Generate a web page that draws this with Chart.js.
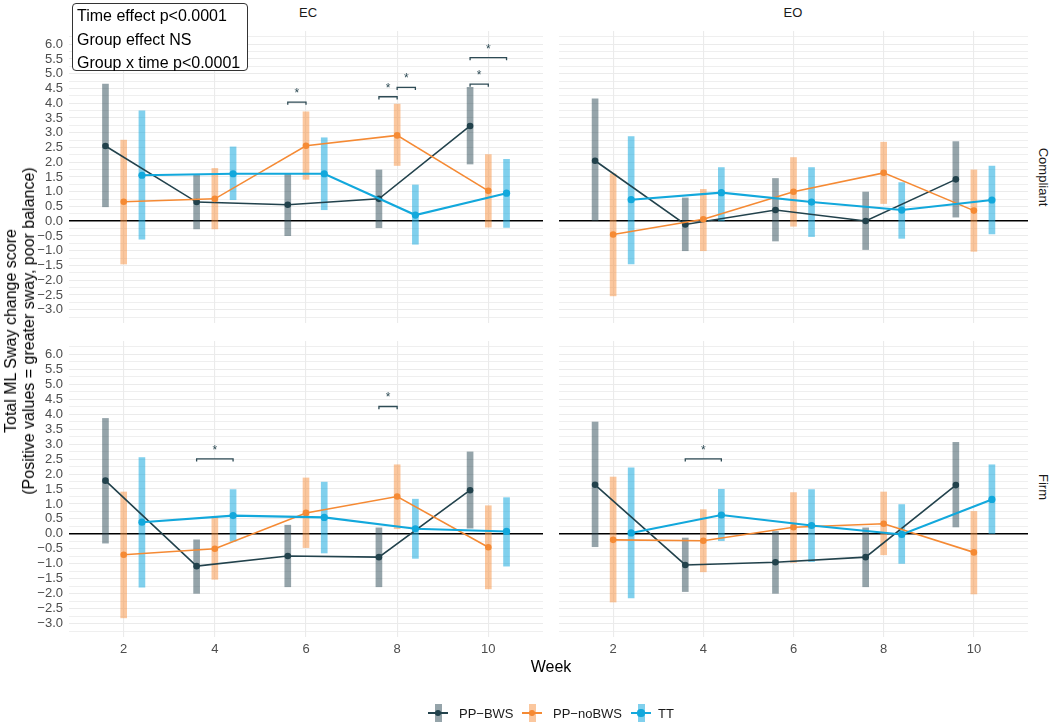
<!DOCTYPE html>
<html>
<head>
<meta charset="utf-8">
<script src="https://cdn.jsdelivr.net/npm/chart.js@4.4.0/dist/chart.umd.min.js"></script>
<style>
  body { margin: 0; background: #fff; font-family: "Liberation Sans", Arial, sans-serif; }
  #wrap { position: relative; width: 1052px; height: 726px; overflow: hidden; }
  canvas { position: absolute; }
  .txt { position: absolute; white-space: nowrap; color: #1a1a1a; }
  .strip { font-size: 13px; line-height: 16px; }
  #note {
    position: absolute; left: 72px; top: 3px; width: 176px; height: 68px; box-sizing: border-box;
    border: 1px solid #333; border-radius: 4px; background: #fff; padding: 0 0 0 4px;
    font-size: 16px; line-height: 23.5px; color: #000; white-space: nowrap;
  }
  .kbar, .kline, .kdot { position: absolute; }
</style>
</head>
<body>
<div id="wrap">
  <canvas id="ecComp" width="547" height="300" style="left:0;top:27px"></canvas>
  <canvas id="eoComp" width="477" height="300" style="left:555px;top:27px"></canvas>
  <canvas id="ecFirm" width="547" height="324" style="left:0;top:337px"></canvas>
  <canvas id="eoFirm" width="477" height="324" style="left:555px;top:337px"></canvas>

  <div class="txt strip" style="left:308px;top:5px;transform:translateX(-50%)">EC</div>
  <div class="txt strip" style="left:793px;top:5px;transform:translateX(-50%)">EO</div>
  <div class="txt strip" style="left:1043px;top:177px;transform:translate(-50%,-50%) rotate(90deg)">Compliant</div>
  <div class="txt strip" style="left:1043px;top:487px;transform:translate(-50%,-50%) rotate(90deg)">Firm</div>

  <div class="txt" style="left:20px;top:331px;font-size:16px;line-height:18px;text-align:center;color:#000;transform:translate(-50%,-50%) rotate(-90deg)">Total ML Sway change score<br>(Positive values = greater sway, poor balance)</div>
  <div class="txt" style="left:551px;top:667px;font-size:16px;color:#000;transform:translate(-50%,-50%)">Week</div>

  <div id="note">Time effect p&lt;0.0001<br>Group effect NS<br>Group x time p&lt;0.0001</div>
  <div id="legend"></div>
</div>

<script>
// weeks and groups
const weeks = [2, 4, 6, 8, 10];
const groups = ['PP\u2212BWS', 'PP\u2212noBWS', 'TT'];
const yBreaks = [-3, -2.5, -2, -1.5, -1, -0.5, 0, 0.5, 1, 1.5, 2, 2.5, 3, 3.5, 4, 4.5, 5, 5.5, 6];

// rows: PP-BWS, PP-noBWS, TT ; columns: weeks
const ecCompMean = [
  [2.55, 0.65, 0.56, 0.76, 3.23],
  [0.66, 0.76, 2.56, 2.91, 1.03],
  [1.56, 1.61, 1.61, 0.21, 0.95]
];
const ecCompLow = [
  [0.49, -0.26, -0.49, -0.22, 1.94],
  [-1.45, -0.26, 1.42, 1.89, -0.20],
  [-0.61, 0.73, 0.39, -0.78, -0.21]
];
const ecCompHigh = [
  [4.65, 1.58, 1.61, 1.74, 4.54],
  [2.75, 1.79, 3.71, 3.97, 2.26],
  [3.74, 2.52, 2.83, 1.23, 2.10]
];

const eoCompMean = [
  [2.05, -0.11, 0.38, 0.01, 1.42],
  [-0.45, 0.07, 1.00, 1.64, 0.36],
  [0.73, 0.97, 0.65, 0.38, 0.72]
];
const eoCompLow = [
  [0.00, -1.00, -0.67, -0.96, 0.14],
  [-2.53, -1.00, -0.17, 0.60, -1.02],
  [-1.45, 0.01, -0.52, -0.58, -0.43]
];
const eoCompHigh = [
  [4.15, 0.79, 1.45, 0.99, 2.70],
  [1.61, 1.08, 2.16, 2.68, 1.74],
  [2.87, 1.82, 1.82, 1.31, 1.87]
];

const ecFirmMean = [
  [1.78, -1.08, -0.74, -0.78, 1.46],
  [-0.70, -0.50, 0.70, 1.25, -0.45],
  [0.39, 0.61, 0.55, 0.17, 0.08]
];
const ecFirmLow = [
  [-0.31, -1.99, -1.77, -1.77, 0.19],
  [-2.81, -1.52, -0.46, 0.17, -1.84],
  [-1.78, -0.25, -0.64, -0.82, -1.08]
];
const ecFirmHigh = [
  [3.86, -0.20, 0.29, 0.20, 2.74],
  [1.40, 0.55, 1.87, 2.31, 0.94],
  [2.55, 1.48, 1.73, 1.16, 1.21]
];

const eoFirmMean = [
  [1.64, -1.04, -0.95, -0.78, 1.63],
  [-0.20, -0.23, 0.22, 0.34, -0.62],
  [0.03, 0.63, 0.28, -0.02, 1.15]
];
const eoFirmLow = [
  [-0.43, -1.93, -1.99, -1.77, 0.23],
  [-2.28, -1.27, -0.96, -0.70, -2.01],
  [-2.14, -0.23, -0.93, -0.99, 0.01]
];
const eoFirmHigh = [
  [3.74, -0.14, 0.08, 0.20, 3.06],
  [1.90, 0.81, 1.38, 1.40, 0.75],
  [2.21, 1.49, 1.48, 0.98, 2.31]
];

// significance brackets: [week, group a, group b, height]
const ecCompBrackets = [[6, 0, 1, 4.04], [8, 0, 1, 4.22], [8, 1, 2, 4.54], [10, 0, 1, 4.65], [10, 0, 2, 5.55]];
const eoCompBrackets = [];
const ecFirmBrackets = [[4, 0, 2, 2.51], [8, 0, 1, 4.26]];
const eoFirmBrackets = [[4, 0, 2, 2.51]];

// styling
const FONT = '"Liberation Sans", Arial, sans-serif';
const lineColors = ['#22424c', '#f58a34', '#12a8dc'];
const barColors = ['rgba(43,74,85,0.5)', 'rgba(247,144,62,0.5)', 'rgba(23,169,222,0.55)'];
const lineWidths = [1.6, 1.6, 2.1];
const pointSizes = [3.3, 3.3, 3.6];
const dodge = [-0.4, 0, 0.4];
const bracketColor = '#2e4b55';

const yGridValues = [];
yBreaks.forEach(v => { yGridValues.push(v - 0.25, v); });
yGridValues.push(6.25);

const fmt = v => (v < 0 ? '\u2212' : '') + Math.abs(v).toFixed(1);

function buildDatasets(mean, low, high, brackets) {
  const ds = [];
  for (let g = 0; g < 3; g++) {
    ds.push({
      type: 'bar',
      data: weeks.map((w, i) => ({ x: w + dodge[g], y: [low[g][i], high[g][i]] })),
      backgroundColor: barColors[g],
      borderWidth: 0,
      barThickness: 6,
      grouped: false,
      order: 10 + g
    });
  }
  for (let g = 0; g < 3; g++) {
    ds.push({
      type: 'line',
      data: weeks.map((w, i) => ({ x: w + dodge[g], y: mean[g][i] })),
      borderColor: lineColors[g],
      backgroundColor: lineColors[g],
      borderWidth: lineWidths[g],
      pointRadius: pointSizes[g],
      pointBorderWidth: 0,
      tension: 0,
      order: 3 - g
    });
  }
  brackets.forEach(b => {
    const xa = b[0] + dodge[b[1]];
    const xb = b[0] + dodge[b[2]];
    ds.push({
      type: 'line',
      data: [{ x: xa, y: b[3] - 0.09 }, { x: xa, y: b[3] }, { x: xb, y: b[3] }, { x: xb, y: b[3] - 0.09 }],
      borderColor: bracketColor,
      borderWidth: 1.3,
      pointRadius: 0,
      tension: 0,
      order: 0
    });
  });
  return ds;
}

// asterisks above each bracket
const starPlugin = {
  id: 'stars',
  afterDatasetsDraw(chart, args, opts) {
    const { ctx, scales } = chart;
    ctx.save();
    ctx.fillStyle = bracketColor;
    ctx.font = '12px ' + FONT;
    ctx.textAlign = 'center';
    ctx.textBaseline = 'alphabetic';
    (opts.brackets || []).forEach(b => {
      const mid = b[0] + (dodge[b[1]] + dodge[b[2]]) / 2;
      const px = scales.x.getPixelForValue(mid);
      const py = scales.y.getPixelForValue(b[3]);
      ctx.fillText('*', px, py - 5);
    });
    ctx.restore();
  }
};

function makePanel(id, mean, low, high, brackets, showY, showX) {
  new Chart(document.getElementById(id), {
    type: 'line',
    data: { datasets: buildDatasets(mean, low, high, brackets) },
    plugins: [starPlugin],
    options: {
      responsive: false,
      animation: false,
      layout: { padding: 0 },
      plugins: {
        legend: { display: false },
        tooltip: { enabled: false },
        stars: { brackets: brackets }
      },
      scales: {
        x: {
          type: 'linear',
          min: 0.8,
          max: 11.2,
          offset: false,
          afterBuildTicks: s => { s.ticks = weeks.map(v => ({ value: v })); },
          afterFit: s => {
            s.height = showX ? 24 : 0;
            s.paddingLeft = 0; s.paddingRight = 0; s.paddingTop = 0; s.paddingBottom = 0;
          },
          grid: { color: '#ebebeb', lineWidth: 1.1, drawTicks: false, offset: false },
          border: { display: false },
          ticks: {
            display: showX,
            autoSkip: false,
            maxRotation: 0,
            padding: 5,
            color: '#4d4d4d',
            font: { family: FONT, size: 13 },
            callback: v => String(v)
          }
        },
        y: {
          type: 'linear',
          min: -3.45,
          max: 6.45,
          afterBuildTicks: s => { s.ticks = yGridValues.map(v => ({ value: v })); },
          afterFit: s => {
            s.width = showY ? 69 : 0;
            s.paddingLeft = 0; s.paddingRight = 0; s.paddingTop = 0; s.paddingBottom = 0;
          },
          grid: {
            drawTicks: false,
            color: c => (c.tick && c.tick.value === 0) ? '#000' : '#ebebeb',
            lineWidth: c => (c.tick && c.tick.value === 0) ? 1.5 : (yBreaks.includes(c.tick.value) ? 1.1 : 0.8)
          },
          border: { display: false },
          ticks: {
            display: showY,
            autoSkip: false,
            padding: 6,
            color: '#4d4d4d',
            font: { family: FONT, size: 13 },
            callback: v => yBreaks.includes(v) ? fmt(v) : ''
          }
        }
      }
    }
  });
}

makePanel('ecComp', ecCompMean, ecCompLow, ecCompHigh, ecCompBrackets, true, false);
makePanel('eoComp', eoCompMean, eoCompLow, eoCompHigh, eoCompBrackets, false, false);
makePanel('ecFirm', ecFirmMean, ecFirmLow, ecFirmHigh, ecFirmBrackets, true, true);
makePanel('eoFirm', eoFirmMean, eoFirmLow, eoFirmHigh, eoFirmBrackets, false, true);

// legend
const legendKeyX = [438, 532, 641];
const legendTextX = [459, 553, 658];
const legendY = 713;
const legend = document.getElementById('legend');
groups.forEach((name, g) => {
  const cx = legendKeyX[g];
  const bar = document.createElement('div');
  bar.className = 'kbar';
  bar.style.cssText = `left:${cx - 3.5}px;top:${legendY - 9}px;width:7px;height:18px;background:${barColors[g]}`;
  const line = document.createElement('div');
  line.className = 'kline';
  line.style.cssText = `left:${cx - 10}px;top:${legendY - lineWidths[g] / 2}px;width:20px;height:${lineWidths[g]}px;background:${lineColors[g]}`;
  const dot = document.createElement('div');
  dot.className = 'kdot';
  const r = pointSizes[g];
  dot.style.cssText = `left:${cx - r}px;top:${legendY - r}px;width:${2 * r}px;height:${2 * r}px;border-radius:50%;background:${lineColors[g]}`;
  const label = document.createElement('div');
  label.className = 'txt';
  label.style.cssText = `left:${legendTextX[g]}px;top:${legendY}px;font-size:13px;transform:translateY(-50%)`;
  label.textContent = name;
  legend.append(bar, line, dot, label);
});
</script>
</body>
</html>
